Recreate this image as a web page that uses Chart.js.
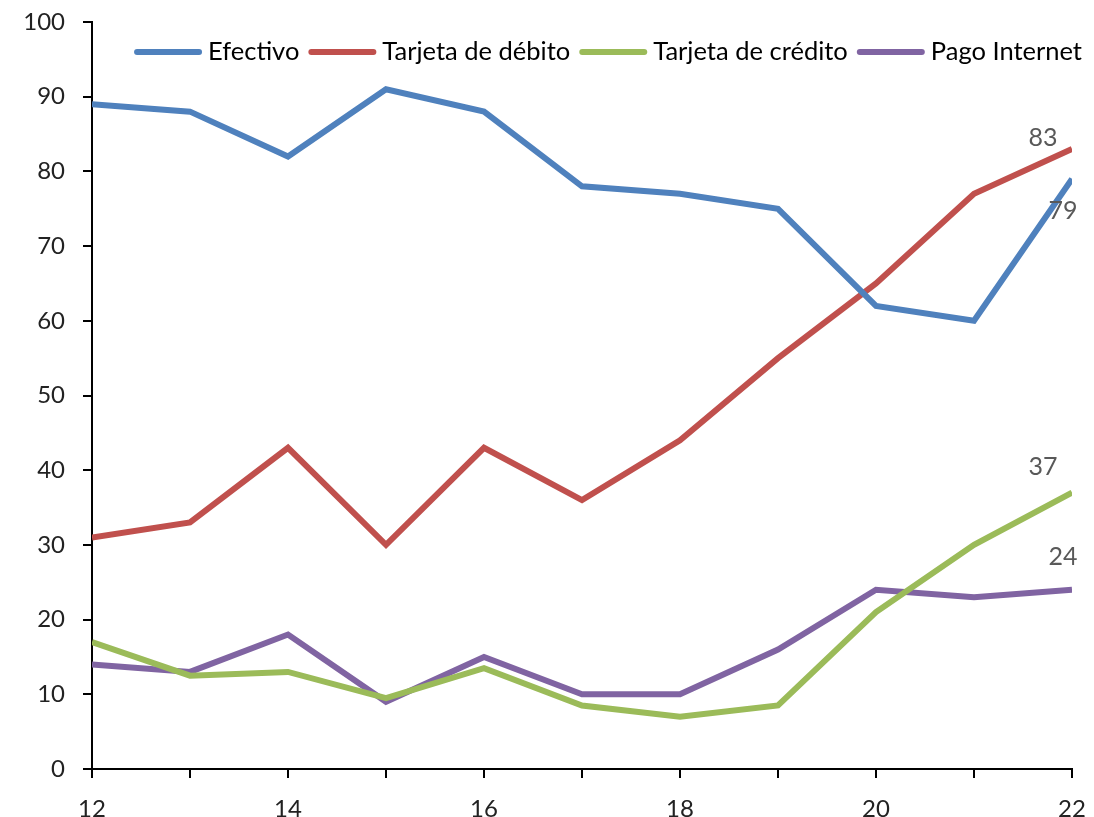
<!DOCTYPE html>
<html>
<head>
<meta charset="utf-8">
<script src="https://cdn.jsdelivr.net/npm/chart.js@4.4.1/dist/chart.umd.min.js"></script>
<style>
  html, body { margin: 0; padding: 0; background: #fff; }
  #wrap { width: 1094px; height: 817px; }
</style>
</head>
<body>
<div id="wrap"><canvas id="c" width="1094" height="817"></canvas></div>
<script>
// Years (2012 = 12 ... 2022 = 22)
const years = [12, 13, 14, 15, 16, 17, 18, 19, 20, 21, 22];

// Share of respondents using each payment method (%)
const efectivo        = [89, 88, 82, 91, 88, 78, 77, 75, 62, 60, 79];
const tarjetaDebito   = [31, 33, 43, 30, 43, 36, 44, 55, 65, 77, 83];
const tarjetaCredito  = [17, 12.5, 13, 9.5, 13.5, 8.5, 7, 8.5, 21, 30, 37];
const pagoInternet    = [14, 13, 18, 9, 15, 10, 10, 16, 24, 23, 24];

const seriesNames = ['Efectivo', 'Tarjeta de débito', 'Tarjeta de crédito', 'Pago Internet'];
const seriesValues = [efectivo, tarjetaDebito, tarjetaCredito, pagoInternet];
const seriesColors = ['#4F81BD', '#C0504D', '#9BBB59', '#8064A2'];

// Where to place the end-of-line value label relative to the last point (px)
const endLabelOffsets = [[-9, 32], [-29, -11], [-29, -26], [-9, -33]];

const FONT = 'Lato, "Open Sans", sans-serif';

const endLabels = {
  id: 'endLabels',
  afterDatasetsDraw(chart) {
    const ctx = chart.ctx;
    ctx.save();
    ctx.font = '25px ' + FONT;
    ctx.fillStyle = '#595959';
    ctx.textAlign = 'center';
    ctx.textBaseline = 'middle';
    chart.data.datasets.forEach((ds, i) => {
      const meta = chart.getDatasetMeta(i);
      const last = meta.data[meta.data.length - 1];
      const v = ds.data[ds.data.length - 1].y;
      const off = endLabelOffsets[i];
      ctx.fillText(String(v), last.x + off[0], last.y + off[1]);
    });
    ctx.restore();
  }
};

// Single-row legend drawn inside the top of the plot area, right-aligned
const lineLegend = {
  id: 'lineLegend',
  afterDraw(chart) {
    const ctx = chart.ctx;
    const area = chart.chartArea;
    const sampleW = 68, gapAfterSample = 6, gapAfterText = 9;
    const y = area.top + 30;
    ctx.save();
    ctx.font = '25.5px ' + FONT;
    ctx.textBaseline = 'middle';
    ctx.textAlign = 'left';
    const items = chart.data.datasets.map(ds => ({
      label: ds.label, color: ds.borderColor, w: ctx.measureText(ds.label).width
    }));
    let total = 0;
    items.forEach((it, i) => {
      total += sampleW + gapAfterSample + it.w + (i < items.length - 1 ? gapAfterText : 0);
    });
    let x = area.right + 10 - total;
    items.forEach(it => {
      ctx.strokeStyle = it.color;
      ctx.lineWidth = 6;
      ctx.lineCap = 'round';
      ctx.beginPath();
      ctx.moveTo(x + 3, y);
      ctx.lineTo(x + sampleW - 3, y);
      ctx.stroke();
      x += sampleW + gapAfterSample;
      ctx.fillStyle = '#000';
      ctx.fillText(it.label, x, y);
      x += it.w + gapAfterText;
    });
    ctx.restore();
  }
};

new Chart(document.getElementById('c'), {
  type: 'line',
  data: {
    datasets: seriesNames.map((name, i) => ({
      label: name,
      data: years.map((yr, j) => ({ x: yr, y: seriesValues[i][j] })),
      borderColor: seriesColors[i],
      backgroundColor: seriesColors[i],
      borderWidth: 6,
      pointRadius: 0,
      tension: 0,
      borderJoinStyle: 'miter',
      borderCapStyle: 'butt'
    }))
  },
  options: {
    responsive: false,
    animation: false,
    layout: { padding: { top: 22, right: 22, left: 0, bottom: 0 } },
    plugins: {
      tooltip: { enabled: false },
      legend: { display: false }
    },
    scales: {
      x: {
        type: 'linear',
        min: 12,
        max: 22,
        afterFit(scale) {
          scale.height = 48;
          scale.paddingLeft = 0;
          scale.paddingRight = 0;
        },
        ticks: {
          stepSize: 1,
          color: '#222',
          padding: 17,
          maxRotation: 0,
          autoSkip: false,
          font: { family: FONT, size: 24 },
          callback: (v) => (v % 2 === 0 ? String(v) : '')
        },
        grid: { drawOnChartArea: false, drawTicks: true, tickLength: 9, color: '#000', lineWidth: 2 },
        border: { display: true, color: '#000', width: 2 }
      },
      y: {
        min: 0,
        max: 100,
        afterFit(scale) {
          scale.width = 92;
          scale.paddingTop = 0;
          scale.paddingBottom = 0;
        },
        ticks: {
          stepSize: 10,
          color: '#222',
          padding: 18,
          font: { family: FONT, size: 24 }
        },
        grid: { drawOnChartArea: false, drawTicks: true, tickLength: 9, color: '#000', lineWidth: 2 },
        border: { display: true, color: '#000', width: 2 }
      }
    }
  },
  plugins: [endLabels, lineLegend]
});
</script>
</body>
</html>
